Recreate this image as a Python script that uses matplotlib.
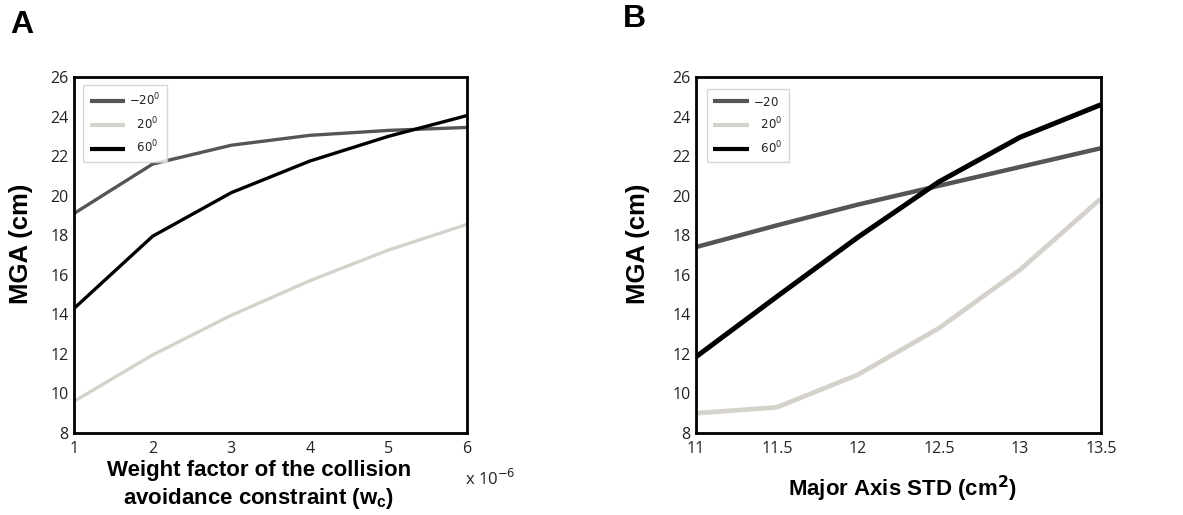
import matplotlib
matplotlib.use("Agg")
import matplotlib.pyplot as plt

# Panel A: MGA vs collision-avoidance weight factor (x 1e-6)
wc = [1, 2, 3, 4, 5, 6]
a_neg20 = [19.1, 21.6, 22.55, 23.05, 23.3, 23.45]
a_20 = [9.6, 11.95, 13.95, 15.7, 17.25, 18.55]
a_60 = [14.3, 17.95, 20.15, 21.75, 23.0, 24.05]

# Panel B: MGA vs major axis STD
std = [11, 11.5, 12, 12.5, 13, 13.5]
b_neg20 = [17.4, 18.5, 19.55, 20.5, 21.45, 22.4]
b_20 = [9.0, 9.3, 10.95, 13.3, 16.25, 19.85]
b_60 = [11.85, 14.9, 17.9, 20.7, 22.95, 24.6]

yticks = [8, 10, 12, 14, 16, 18, 20, 22, 24, 26]
b_xticks = [11, 11.5, 12, 12.5, 13, 13.5]
b_xticklabels = ["11", "11.5", "12", "12.5", "13", "13.5"]

c_dark = "#555555"
c_light = "#d5d2cb"
c_black = "#000000"

tick_font = "Open Sans"
label_font = "Liberation Sans"

plt.rcParams["mathtext.fontset"] = "dejavusans"
fig = plt.figure(figsize=(11.83, 5.15), dpi=100)


def style_axes(ax, ylabel_x):
    for s in ax.spines.values():
        s.set_linewidth(2.0)
        s.set_color("black")
    ax.tick_params(length=0, labelsize=11.5)
    ax.tick_params(axis="x", pad=6)
    ax.tick_params(axis="y", pad=4)
    ax.set_ylim(8, 26)
    ax.set_yticks(yticks)
    for lab in ax.get_yticklabels():
        lab.set_fontfamily(tick_font)
        lab.set_color("#222222")
    ax.set_ylabel("MGA (cm)", fontsize=18.5, fontweight="bold", fontfamily=label_font)
    ax.yaxis.set_label_coords(ylabel_x, 0.532, transform=ax.transAxes)


def add_legend(ax, anchor):
    leg = ax.legend(loc="upper left", bbox_to_anchor=anchor, borderaxespad=0,
                    fontsize=8.5, handlelength=3.0, frameon=True, fancybox=False,
                    borderpad=0.55, labelspacing=0.6, handletextpad=0.35)
    leg.get_frame().set_edgecolor("#cccccc")
    leg.get_frame().set_linewidth(1.0)
    for ln in leg.get_lines():
        ln.set_linewidth(3.0)
    for t in leg.get_texts():
        t.set_color("#222222")
    return leg


# ---- Panel A ----
axA = fig.add_axes([0.0626, 0.1592, 0.3322, 0.6913])
axA.plot(wc, a_neg20, color=c_dark, lw=2.4, label=r"$-20^0$", solid_capstyle="butt")
axA.plot(wc, a_20, color=c_light, lw=2.4, label=r"$\ \ 20^0$", solid_capstyle="butt")
axA.plot(wc, a_60, color=c_black, lw=2.4, label=r"$\ \ 60^0$", solid_capstyle="butt")
axA.set_xlim(1, 6)
axA.set_xticks(wc)
style_axes(axA, -0.105)
axA.set_xticklabels([str(v) for v in wc], fontfamily=tick_font, color="#222222")
axA.set_xlabel("Weight factor of the collision\navoidance constraint (w$_{\\mathregular{c}}$)",
               fontsize=16, fontweight="bold", fontfamily=label_font, linespacing=1.3)
axA.xaxis.set_label_coords(0.47, -0.075, transform=axA.transAxes)
axA.xaxis.label.set_verticalalignment("top")
axA.text(0.995, -0.13, r"x 10$^{-6}$", transform=axA.transAxes, fontsize=12,
         fontfamily=tick_font, color="#222222", ha="left", va="center")
add_legend(axA, (0.023, 0.977))

# ---- Panel B ----
axB = fig.add_axes([0.5883, 0.1592, 0.3423, 0.6913])
axB.plot(std, b_neg20, color=c_dark, lw=3.2, label=r"$-20$", solid_capstyle="butt")
axB.plot(std, b_20, color=c_light, lw=3.4, label=r"$\ \ 20^0$", solid_capstyle="butt")
axB.plot(std, b_60, color=c_black, lw=3.6, label=r"$\ \ 60^0$", solid_capstyle="butt")
axB.set_xlim(11, 13.5)
axB.set_xticks(b_xticks)
style_axes(axB, -0.114)
axB.set_xticklabels(b_xticklabels, fontfamily=tick_font, color="#222222")
axB.set_xlabel(r"Major Axis STD (cm$^{\mathbf{2}}$)", fontsize=16, fontweight="bold",
               fontfamily=label_font)
axB.xaxis.set_label_coords(0.51, -0.115, transform=axB.transAxes)
axB.xaxis.label.set_verticalalignment("top")
add_legend(axB, (0.027, 0.966))

# Panel letters
fig.text(0.0085, 0.936, "A", fontsize=23, fontweight="bold", fontfamily=label_font, va="baseline")
fig.text(0.5266, 0.948, "B", fontsize=23, fontweight="bold", fontfamily=label_font, va="baseline")

fig.savefig("out.png", dpi=100)
